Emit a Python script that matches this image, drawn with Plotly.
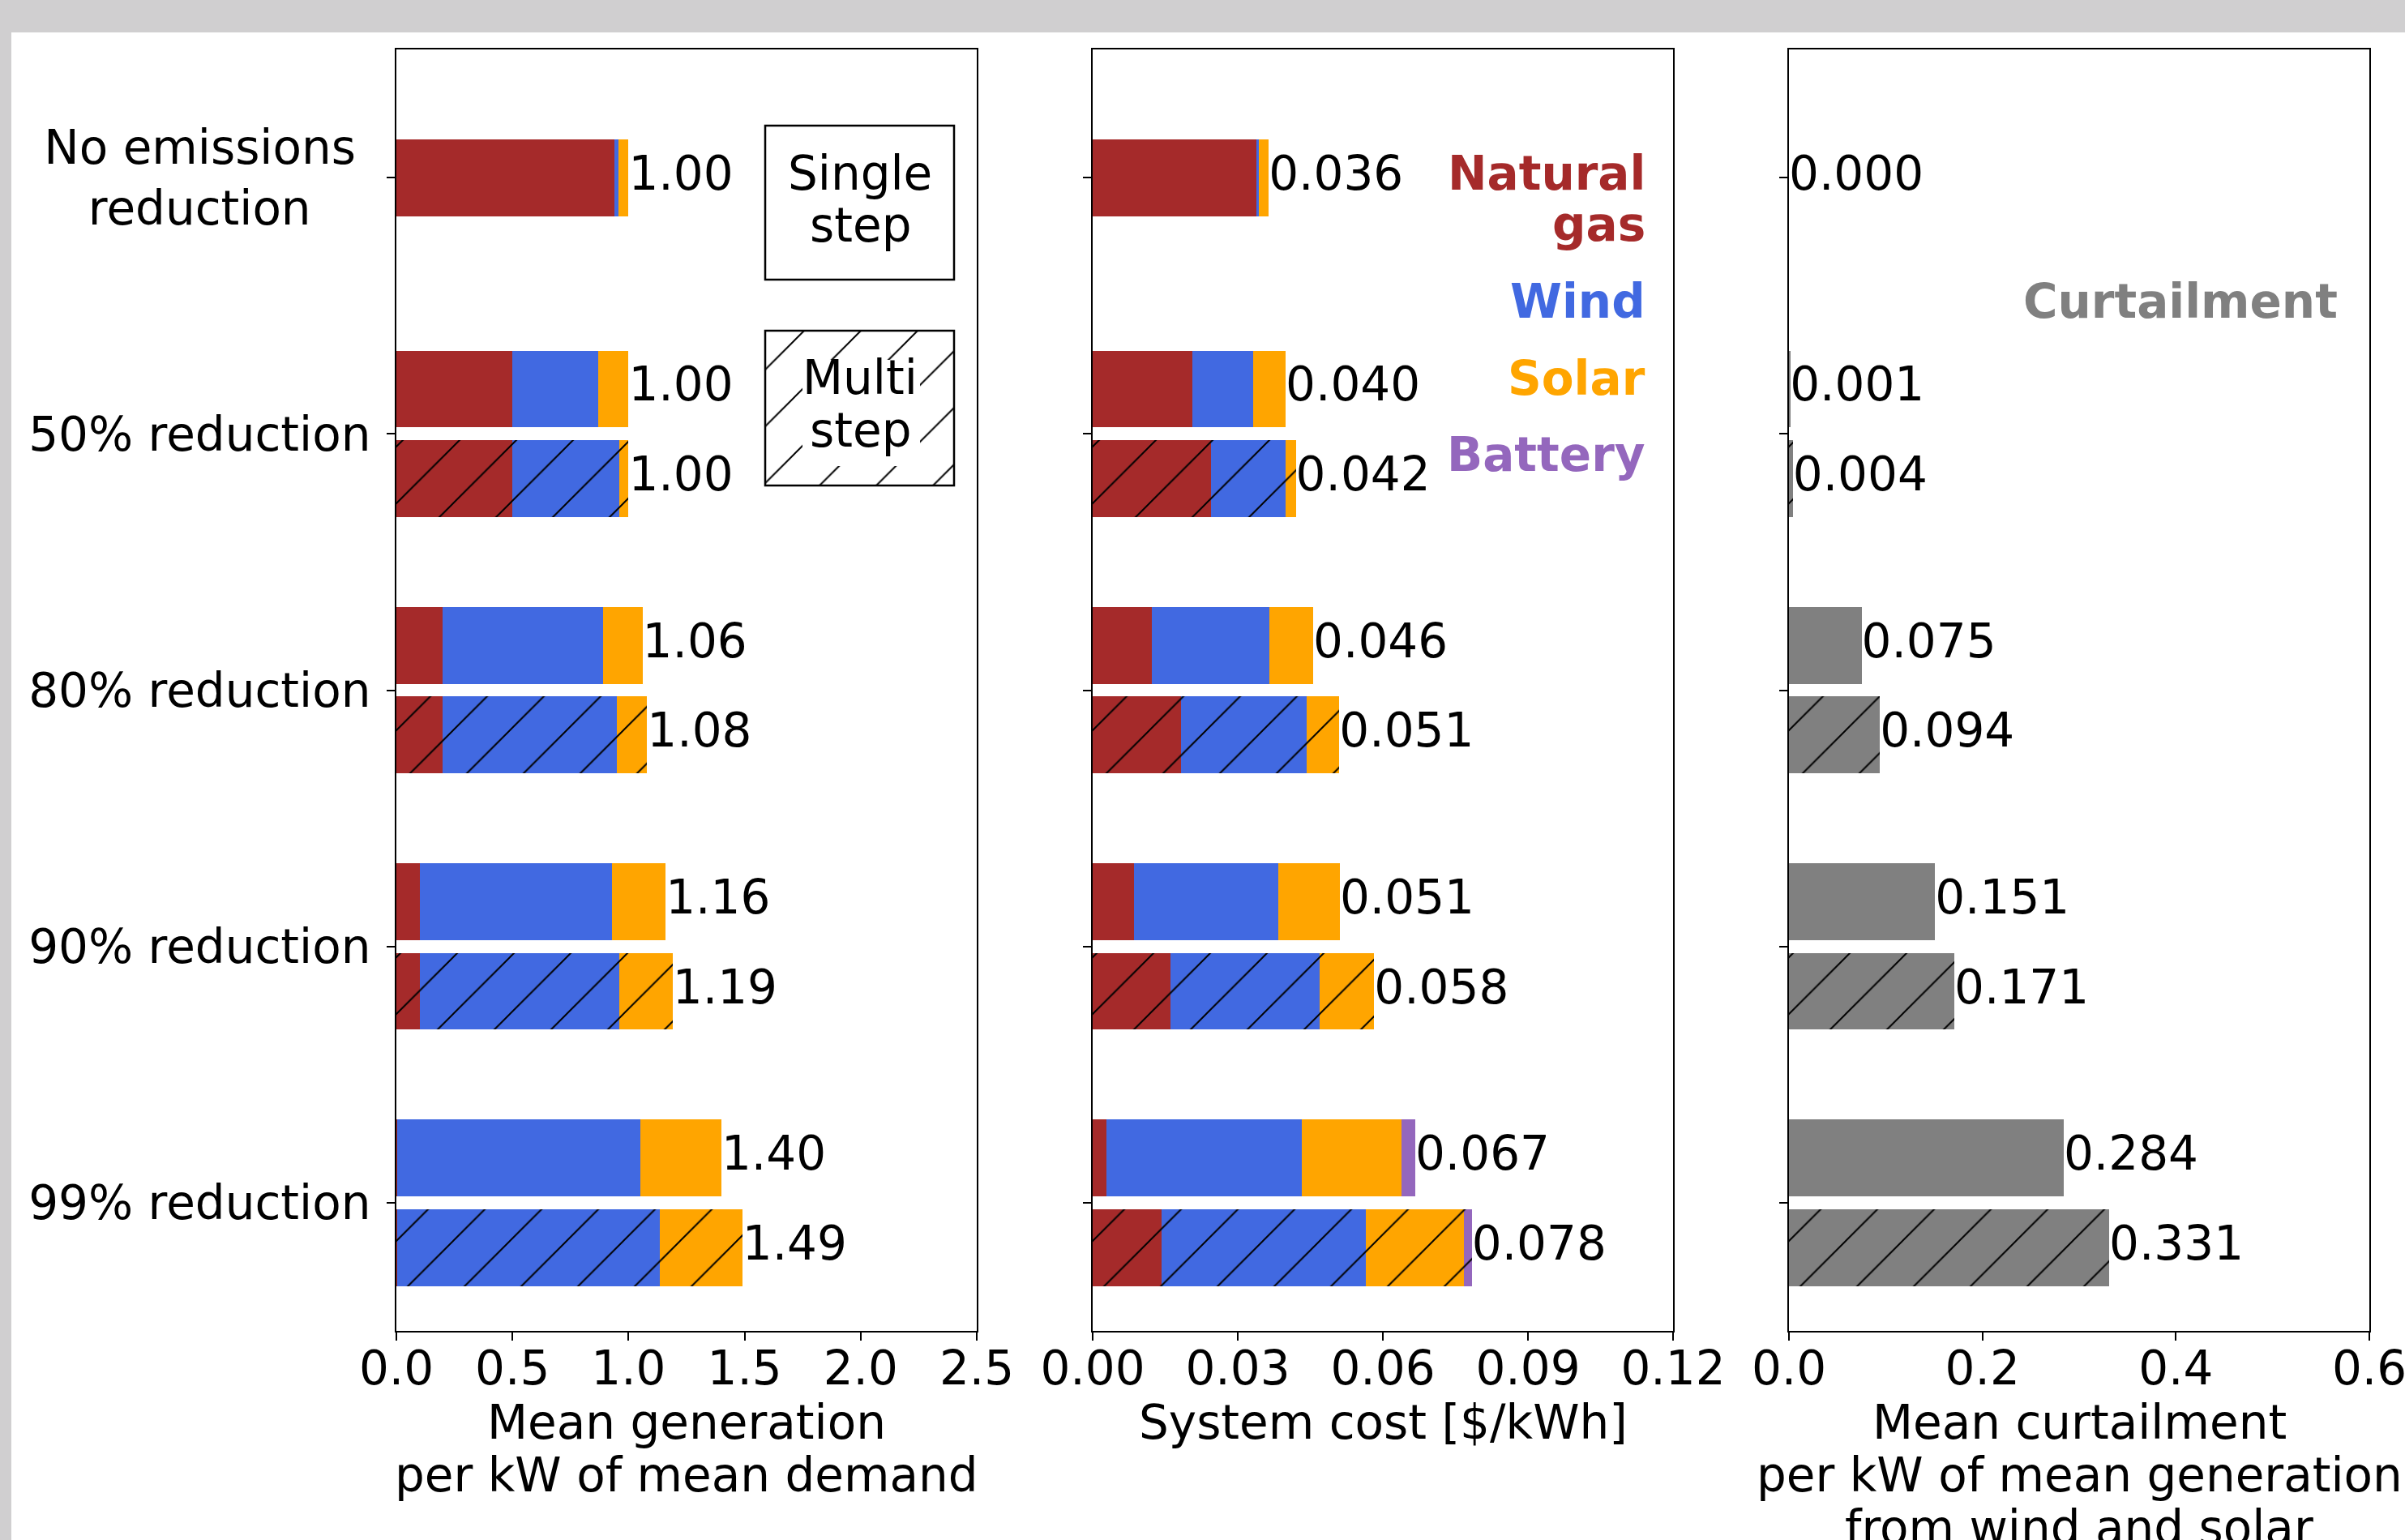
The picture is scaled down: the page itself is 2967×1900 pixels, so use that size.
import plotly.graph_objects as go

W, H = 2967, 1900
FONT = "DejaVu Sans"
FS = 58

# ---------------- data ----------------
categories = ["No emissions\u00a0<br>reduction\u00a0\u00a0\u00a0\u00a0", "50% reduction", "80% reduction",
              "90% reduction", "99% reduction"]

# Mean generation per kW of mean demand (single step: all 5 scenarios, multi step: 50/80/90/99 %)
gen_gas_single = [0.94, 0.50, 0.20, 0.10, 0.005]
gen_wind_single = [0.017, 0.37, 0.69, 0.83, 1.045]
gen_solar_single = [0.043, 0.13, 0.17, 0.23, 0.35]
gen_gas_multi = [0.50, 0.20, 0.10, 0.005]
gen_wind_multi = [0.46, 0.75, 0.86, 1.13]
gen_solar_multi = [0.04, 0.13, 0.23, 0.355]

# System cost [$/kWh]
cost_gas_single = [0.0338, 0.0206, 0.0123, 0.0085, 0.0028]
cost_wind_single = [0.0005, 0.0126, 0.0242, 0.0298, 0.0404]
cost_solar_single = [0.0021, 0.0067, 0.0091, 0.0128, 0.0206]
cost_battery_single = [0.0, 0.0, 0.0, 0.0, 0.0029]
cost_gas_multi = [0.0245, 0.0182, 0.0161, 0.0142]
cost_wind_multi = [0.0154, 0.0260, 0.0308, 0.0423]
cost_solar_multi = [0.0021, 0.0068, 0.0113, 0.0202]
cost_battery_multi = [0.0, 0.0, 0.0, 0.0017]

# Mean curtailment per kW of mean generation from wind and solar
curt_single = [0.000, 0.001, 0.075, 0.151, 0.284]
curt_multi = [0.004, 0.094, 0.171, 0.331]

gen_ticks = [0.0, 0.5, 1.0, 1.5, 2.0, 2.5]
gen_ticktext = ["0.0", "0.5", "1.0", "1.5", "2.0", "2.5"]
cost_ticks = [0.0, 0.03, 0.06, 0.09, 0.12]
cost_ticktext = ["0.00", "0.03", "0.06", "0.09", "0.12"]
curt_ticks = [0.0, 0.2, 0.4, 0.6]
curt_ticktext = ["0.0", "0.2", "0.4", "0.6"]

# ---------------- style ----------------
C_GAS, C_WIND, C_SOLAR, C_BATT, C_CURT = "#a52a2a", "#4169e1", "#ffa500", "#9467bd", "#808080"
BAR_H = 0.3
OFF = 0.175
HATCH_SIZE = 49.5
HATCH_SOL = 0.04

pos_cat = list(range(len(categories)))
y_single = [0.0] + [c - OFF for c in pos_cat[1:]]
y_multi = [c + OFF for c in pos_cat[1:]]

fig = go.Figure()


def add_bar(x, y, color, hatched, xa, ya):
    marker = dict(color=color, line=dict(width=0))
    if hatched:
        marker["pattern"] = dict(shape="/", size=HATCH_SIZE, solidity=HATCH_SOL,
                                 fgcolor="black", bgcolor=color, fillmode="replace")
    fig.add_trace(go.Bar(x=x, y=y, orientation="h", width=BAR_H, marker=marker,
                         xaxis=xa, yaxis=ya, showlegend=False, hoverinfo="skip"))


def add_labels(totals, y, fmt, xa, ya):
    fig.add_trace(go.Scatter(x=totals, y=y, mode="text", text=[fmt.format(t) for t in totals],
                             textposition="middle right",
                             textfont=dict(family=FONT, size=FS, color="black"),
                             xaxis=xa, yaxis=ya, showlegend=False, hoverinfo="skip",
                             cliponaxis=False))


# panel 1 : generation
for vals, col in [(gen_gas_single, C_GAS), (gen_wind_single, C_WIND), (gen_solar_single, C_SOLAR)]:
    add_bar(vals, y_single, col, False, "x", "y")
for vals, col in [(gen_gas_multi, C_GAS), (gen_wind_multi, C_WIND), (gen_solar_multi, C_SOLAR)]:
    add_bar(vals, y_multi, col, True, "x", "y")
gen_tot_s = [sum(v) for v in zip(gen_gas_single, gen_wind_single, gen_solar_single)]
gen_tot_m = [sum(v) for v in zip(gen_gas_multi, gen_wind_multi, gen_solar_multi)]
add_labels(gen_tot_s + gen_tot_m, y_single + y_multi, "{:.2f}", "x", "y")

# panel 2 : cost
for vals, col in [(cost_gas_single, C_GAS), (cost_wind_single, C_WIND),
                  (cost_solar_single, C_SOLAR), (cost_battery_single, C_BATT)]:
    add_bar(vals, y_single, col, False, "x2", "y2")
for vals, col in [(cost_gas_multi, C_GAS), (cost_wind_multi, C_WIND),
                  (cost_solar_multi, C_SOLAR), (cost_battery_multi, C_BATT)]:
    add_bar(vals, y_multi, col, True, "x2", "y2")
cost_tot_s = [sum(v) for v in zip(cost_gas_single, cost_wind_single, cost_solar_single, cost_battery_single)]
cost_tot_m = [sum(v) for v in zip(cost_gas_multi, cost_wind_multi, cost_solar_multi, cost_battery_multi)]
add_labels(cost_tot_s + cost_tot_m, y_single + y_multi, "{:.3f}", "x2", "y2")

# panel 3 : curtailment
add_bar(curt_single, y_single, C_CURT, False, "x3", "y3")
add_bar(curt_multi, y_multi, C_CURT, True, "x3", "y3")
add_labels(curt_single + curt_multi, y_single + y_multi, "{:.3f}", "x3", "y3")

# legend box hatch (decoration, drawn on a full-figure pixel overlay axis)
BX0, BX1 = 944, 1177
fig.add_trace(go.Scatter(x=[BX0, BX1, BX1, BX0, BX0], y=[408, 408, 599, 599, 408],
                         mode="lines", fill="toself", fillcolor="white", line=dict(width=0),
                         fillpattern=dict(shape="/", size=HATCH_SIZE, solidity=HATCH_SOL,
                                          fgcolor="black", bgcolor="white", fillmode="replace"),
                         xaxis="x4", yaxis="y4", showlegend=False, hoverinfo="skip"))

# ---------------- layout ----------------
def xfrac(px):
    return px / W


def yfrac(px):
    return 1 - px / H


ydom = [yfrac(1642), yfrac(61)]
axis_common = dict(showline=True, linecolor="black", linewidth=2, mirror=True,
                   ticks="outside", ticklen=10, tickwidth=2, tickcolor="black",
                   showgrid=False, zeroline=False, automargin=False, fixedrange=True,
                   ticklabeloverflow="allow",
                   tickfont=dict(family=FONT, size=FS, color="black"))
xtick_extra = dict(ticklabelstandoff=-16)

layout = dict(
    width=W, height=H, autosize=False,
    margin=dict(l=0, r=0, t=0, b=0, pad=0),
    paper_bgcolor="white", plot_bgcolor="rgba(0,0,0,0)",
    barmode="stack", showlegend=False,
    font=dict(family=FONT, size=FS, color="black"),
    xaxis=dict(axis_common, **xtick_extra, domain=[xfrac(489), xfrac(1205)], range=[0, 2.5],
               anchor="y", tickmode="array", tickvals=gen_ticks, ticktext=gen_ticktext),
    yaxis=dict(axis_common, domain=ydom, range=[4.5, -0.5], anchor="x",
               tickmode="array", tickvals=pos_cat, ticktext=categories, ticklabelstandoff=8),
    xaxis2=dict(axis_common, **xtick_extra, domain=[xfrac(1348), xfrac(2064)], range=[0, 0.12],
                anchor="y2", tickmode="array", tickvals=cost_ticks, ticktext=cost_ticktext),
    yaxis2=dict(axis_common, domain=ydom, range=[4.5, -0.5], anchor="x2",
                tickmode="array", tickvals=pos_cat, showticklabels=False),
    xaxis3=dict(axis_common, **xtick_extra, domain=[xfrac(2207), xfrac(2923)], range=[0, 0.6],
                anchor="y3", tickmode="array", tickvals=curt_ticks, ticktext=curt_ticktext),
    yaxis3=dict(axis_common, domain=ydom, range=[4.5, -0.5], anchor="x3",
                tickmode="array", tickvals=pos_cat, showticklabels=False),
    xaxis4=dict(domain=[0, 1], range=[0, W], visible=False, anchor="y4", fixedrange=True),
    yaxis4=dict(domain=[0, 1], range=[H, 0], visible=False, anchor="x4", fixedrange=True),
)
fig.update_layout(layout)

shapes = [
    # grey window frame
    dict(type="rect", xref="paper", yref="paper", x0=0, x1=1, y0=yfrac(40), y1=1,
         fillcolor="#d0cfd0", line=dict(width=0), layer="below"),
    dict(type="rect", xref="paper", yref="paper", x0=0, x1=xfrac(14), y0=0, y1=1,
         fillcolor="#d0cfd0", line=dict(width=0), layer="below"),
    # single step box
    dict(type="rect", xref="x4", yref="y4", x0=BX0, x1=BX1, y0=155, y1=345,
         fillcolor="white", line=dict(color="black", width=2.5), layer="above"),
    # multi step box : white area behind text, then border
    dict(type="rect", xref="x4", yref="y4", x0=990, x1=1135, y0=444, y1=575,
         fillcolor="white", line=dict(width=0), layer="above"),
    dict(type="rect", xref="x4", yref="y4", x0=BX0, x1=BX1, y0=408, y1=599,
         fillcolor="rgba(0,0,0,0)", line=dict(color="black", width=2.5), layer="above"),
]
fig.update_layout(shapes=shapes)

ann = []


def text(x, y, s, color="black", anchor="center", bold=False):
    ann.append(dict(xref="x4", yref="y4", x=x, y=y, text=("<b>%s</b>" % s) if bold else s,
                    showarrow=False, xanchor=anchor, yanchor="middle",
                    font=dict(family=FONT, size=FS, color=color)))


# box texts
text(1061, 214, "Single")
text(1061, 278, "step")
text(1061, 466, "Multi")
text(1061, 531, "step")
# colour legend (panel 2)
text(2032, 214, "Natural", C_GAS, "right", True)
text(2032, 277, "gas", C_GAS, "right", True)
text(2032, 372, "Wind", C_WIND, "right", True)
text(2032, 467, "Solar", C_SOLAR, "right", True)
text(2032, 561, "Battery", C_BATT, "right", True)
text(2886, 372, "Curtailment", C_CURT, "right", True)
# axis titles
text(847, 1755, "Mean generation")
text(847, 1820, "per kW of mean demand")
text(1706, 1755, "System cost [$/kWh]")
text(2565, 1755, "Mean curtailment")
text(2565, 1820, "per kW of mean generation")
text(2565, 1885, "from wind and solar")
fig.update_layout(annotations=ann)

fig.write_html("out.html", config={"displayModeBar": False},
               post_script="document.body.style.margin='0';document.body.style.overflow='hidden';")
